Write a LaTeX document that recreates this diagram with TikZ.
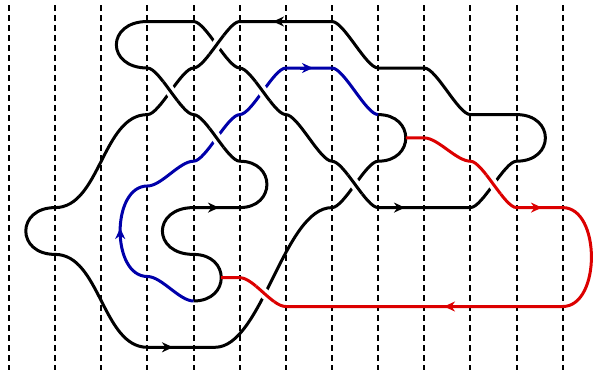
\documentclass[tikz,border=0pt]{standalone}
\usetikzlibrary{arrows.meta}
\definecolor{kblue}{RGB}{0,0,170}
\definecolor{kred}{RGB}{220,0,0}
\tikzset{
  grid line/.style={line width=1.8pt, dash pattern=on 6pt off 4pt},
  strand/.style={line width=3pt, line join=round},
  gapper/.style={white, line width=10pt},
  tipmark/.style={line width=3pt, -{Stealth[length=11pt,width=10pt,inset=3.5pt]}},
}
\begin{document}
\begin{tikzpicture}[x=1pt,y=-1pt]
\useasboundingbox (0,0) rectangle (608,378);
% dashed vertical lines
\foreach \gx in {9,55,101,147,194,240,286,332,378,424,470,517,563}{
  \draw[grid line] (\gx,5) -- (\gx,370);
}
% black component
\draw[strand] (193.56,301)
 .. controls (230.5,301) and (230.5,254.4) .. (193.56,254.4)
 .. controls (152,254.4) and (152,207.6) .. (193.56,207.6)
 -- (239.7,207.6)
 .. controls (276,207.6) and (276,161.2) .. (239.7,161.2)
 .. controls (227.7,161.2) and (205.56,114.6) .. (193.56,114.6)
 .. controls (181.56,114.6) and (159.42,68) .. (147.42,68)
 .. controls (106,68) and (106,21.5) .. (147.42,21.5)
 -- (193.56,21.5)
 .. controls (205.56,21.5) and (227.7,68) .. (239.7,68)
 .. controls (251.7,68) and (273.84,114.6) .. (285.84,114.6)
 .. controls (297.84,114.6) and (319.98,161.2) .. (331.98,161.2)
 .. controls (343.98,161.2) and (366.12,207.6) .. (378.12,207.6)
 -- (470.4,207.6)
 .. controls (482.4,207.6) and (504.54,161.2) .. (516.54,161.2)
 .. controls (555,161.2) and (555,114.6) .. (516.54,114.6)
 -- (470.4,114.6)
 .. controls (458.4,114.6) and (436.26,68) .. (424.26,68)
 -- (378.12,68)
 .. controls (366.12,68) and (343.98,21.5) .. (331.98,21.5)
 -- (239.7,21.5)
 .. controls (227.7,21.5) and (205.56,68) .. (193.56,68)
 .. controls (181.56,68) and (159.42,114.6) .. (147.42,114.6)
 .. controls (102.42,114.6) and (100.14,207.6) .. (55.14,207.6)
 .. controls (16,207.6) and (16,254.4) .. (55.14,254.4)
 .. controls (100.14,254.4) and (102.42,347.3) .. (147.42,347.3)
 -- (215,347.3)
 .. controls (262,347.3) and (284,207.6) .. (331.98,207.6)
 .. controls (343.98,207.6) and (366.12,161.2) .. (378.12,161.2)
 .. controls (415,161.2) and (415,114.6) .. (378.12,114.6);
% blue arc
\draw[strand, kblue] (378.12,114.6)
 .. controls (366.12,114.6) and (343.98,68) .. (331.98,68)
 -- (285.84,68)
 .. controls (273.84,68) and (251.7,114.6) .. (239.7,114.6)
 .. controls (227.7,114.6) and (205.56,161.2) .. (193.56,161.2)
 .. controls (179.5,161.2) and (161.5,186) .. (147.42,186)
 .. controls (111,186) and (111,276.5) .. (147.42,276.5)
 .. controls (161.5,276.5) and (179.5,301) .. (193.56,301);
% red arc
\draw[strand, kred] (405.8,137.9) -- (424.26,137.9)
 .. controls (438,137.9) and (456.4,161.2) .. (470.4,161.2)
 .. controls (482.4,161.2) and (504.54,207.6) .. (516.54,207.6)
 -- (562.68,207.6)
 .. controls (601,207.6) and (601,306.5) .. (562.68,306.5)
 -- (285.84,306.5)
 .. controls (271.84,306.5) and (253.7,277.7) .. (239.7,277.7)
 -- (221.2,277.7);
% crossings: over strands redrawn with a gap
\foreach \cx/\cy/\col/\ax/\ay/\bx/\by/\ccx/\ccy/\ddx/\ddy in {
  216.63/44.75/black/193.56/68/205.56/68/227.7/21.5/239.7/21.5,
  170.49/91.3/black/147.42/68/159.42/68/181.56/114.6/193.56/114.6,
  216.63/137.9/black/193.56/114.6/205.56/114.6/227.7/161.2/239.7/161.2,
  262.77/91.3/black/239.7/68/251.7/68/273.84/114.6/285.84/114.6,
  355.05/184.4/black/331.98/161.2/343.98/161.2/366.12/207.6/378.12/207.6,
  493.47/184.4/kred/470.4/161.2/482.4/161.2/504.54/207.6/516.54/207.6,
  265/294/kred/239.7/277.7/253.7/277.7/271.84/306.5/285.84/306.5}{
  \begin{scope}
    \clip (\cx,\cy) circle (12);
    \draw[gapper] (\ax,\ay) .. controls (\bx,\by) and (\ccx,\ccy) .. (\ddx,\ddy);
    \draw[strand, \col] (\ax,\ay) .. controls (\bx,\by) and (\ccx,\ccy) .. (\ddx,\ddy);
  \end{scope}
}
% arrow heads
\draw[tipmark] (286,21.5) -- (273,21.5);
\draw[tipmark, kblue] (300,68) -- (313,68);
\draw[tipmark] (160,347.3) -- (173,347.3);
\draw[tipmark] (206,207.6) -- (219,207.6);
\draw[tipmark] (392,207.6) -- (405,207.6);
\draw[tipmark, kred] (529,207.6) -- (542,207.6);
\draw[tipmark, kred] (457,306.5) -- (444,306.5);
\draw[tipmark, kblue] (120.2,240) -- (120.2,228);
\end{tikzpicture}
\end{document}
